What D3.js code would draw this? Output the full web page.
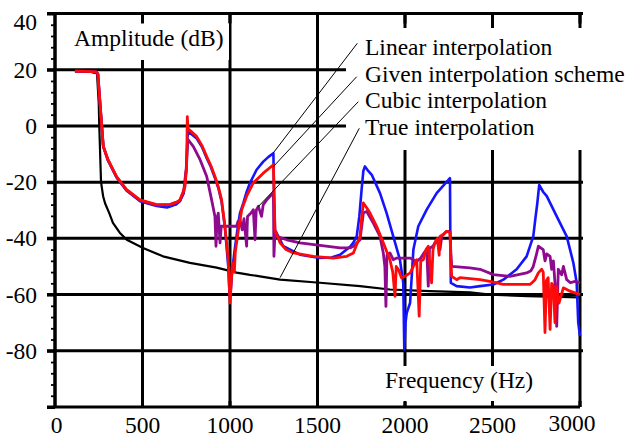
<!DOCTYPE html>
<html>
<head>
<meta charset="utf-8">
<script src="https://cdn.jsdelivr.net/npm/d3@7"></script>
<style>
  body { margin: 0; background: #fff; }
  svg text { font-family: "Liberation Serif", "Tinos", "DejaVu Serif", "Noto Serif", serif; }
</style>
</head>
<body>
<div id="grafico"></div>
<script>
// Valores: [frequência (Hz), amplitude (dB)]
const trueInterp = [
  [114, 19.5], [200, 19.3], [240, 18.7], [250, 8], [253, 0], [258, -10], [263, -20],
  [275, -25], [286, -27.5], [310, -31], [331, -34.5], [370, -38], [410, -40.5],
  [503, -43.4], [617, -46.4], [771, -48.7], [924, -50.4], [1038, -52.2], [1114, -53],
  [1171, -53.5], [1286, -54.7], [1514, -55.8], [1743, -57], [1914, -58.2], [2143, -58.8],
  [2371, -59.2], [2486, -60], [2700, -60.6], [3000, -61]
];

const linearInterp = [
  [114, 19.5], [180, 19.4], [235, 19.2], [245, 18.5], [255, 10], [267, 0], [276, -7.3],
  [303, -12.3], [352, -18.3], [410, -23], [486, -26.8], [581, -28.5], [640, -29], [690, -28],
  [714, -26.8], [735, -24], [750, -16], [757, -4], [762, -2], [768, -2.3], [810, -4.5],
  [840, -7.5], [867, -11.5], [890, -14.5], [914, -18.5], [935, -22.5], [952, -27], [971, -36],
  [990, -50], [998, -60.6], [1005, -58], [1012, -52], [1025, -45], [1040, -38], [1057, -31],
  [1076, -27.5], [1095, -23.5], [1114, -20.3], [1152, -15.6], [1190, -12.7], [1220, -11],
  [1248, -9.7], [1252, -25], [1257, -37], [1305, -42.8], [1400, -45.8], [1514, -47],
  [1580, -46.8], [1629, -45.8], [1686, -43], [1705, -41.5], [1724, -39.3], [1739, -32.2],
  [1752, -22.7], [1762, -16], [1771, -14.4], [1790, -16], [1810, -17.4], [1857, -23.9],
  [1895, -31], [1933, -39.3], [1971, -47.6], [1990, -55.8], [1996, -79.5], [2003, -70],
  [2010, -66.5], [2029, -63], [2040, -52], [2048, -44], [2076, -35.7], [2124, -29.8],
  [2181, -23.9], [2257, -18.6], [2259, -40], [2262, -55.8], [2295, -57], [2371, -57.5],
  [2429, -57], [2505, -56.4], [2562, -54.7], [2638, -51], [2695, -46.4], [2733, -39.3],
  [2745, -33], [2756, -27.5], [2767, -21], [2790, -23.5], [2810, -25], [2867, -32.2],
  [2924, -39.3], [2962, -48.7], [2981, -55.8], [2990, -70], [3000, -74.8]
];

const cubicInterp = [
  [114, 19.5], [180, 19.4], [235, 19.2], [245, 18.5], [255, 10], [267, 0], [276, -7.3],
  [303, -12.2], [352, -18.2], [410, -23], [486, -26.5], [581, -28.2], [657, -28], [700, -27],
  [714, -26.5], [735, -23.5], [750, -15], [758, -6], [762, -5], [790, -7.3], [829, -12],
  [867, -18], [895, -26.3], [914, -32.2], [920, -42.8], [926, -33], [933, -31], [943, -41.6],
  [950, -35.7], [1038, -35.7], [1045, -34], [1057, -33.4], [1070, -37], [1080, -33],
  [1095, -42.8], [1100, -32.2], [1120, -31], [1133, -29.8], [1143, -40.5], [1150, -30],
  [1162, -28.6], [1180, -32.2], [1190, -28], [1210, -26.3], [1229, -25], [1248, -23.9],
  [1251, -46.4], [1257, -38], [1267, -39.3], [1324, -40.5], [1400, -41.6], [1514, -42.5],
  [1629, -43.4], [1686, -43.4], [1705, -42.8], [1743, -40.5], [1752, -36], [1762, -31],
  [1781, -30.4], [1800, -32.5], [1819, -34.6], [1857, -39.3], [1876, -45.2], [1885, -50],
  [1891, -64.2], [1897, -46], [1914, -45.2], [1933, -47.6], [1952, -47], [2029, -47],
  [2067, -48.2], [2090, -47], [2110, -45], [2124, -44], [2133, -57], [2140, -43.5],
  [2160, -42.8], [2181, -40.5], [2200, -44], [2210, -39.3], [2238, -37.5], [2257, -37.5],
  [2262, -45], [2267, -50], [2371, -50.5], [2429, -51], [2505, -52.9], [2600, -53.5],
  [2695, -52.3], [2720, -51.5], [2733, -50], [2750, -46], [2762, -42.8], [2790, -44],
  [2800, -48], [2810, -45.5], [2829, -46.4], [2838, -51], [2848, -48], [2857, -56],
  [2867, -71.3], [2876, -51], [2895, -53], [2905, -50], [2924, -54.7], [2945, -55.8],
  [2971, -55.3], [3000, -55.8]
];

const givenInterp = [
  [114, 19.5], [180, 19.4], [235, 19.2], [245, 18.5], [255, 10], [267, 0], [276, -7.3],
  [303, -12], [352, -18], [410, -22.7], [486, -26.3], [581, -28], [657, -28], [700, -27],
  [714, -26.3], [735, -23], [743, -21.5], [752, -14.4], [754, -6], [756, 3.3], [760, -1],
  [768, -1.4], [810, -3.8], [840, -7], [867, -10.9], [890, -14], [914, -18], [935, -22],
  [952, -26.3], [971, -35.7], [990, -47.6], [1000, -63], [1008, -55], [1012, -50],
  [1019, -48.7], [1025, -52], [1030, -45], [1048, -37], [1067, -29.8], [1095, -25],
  [1133, -20.3], [1190, -16.8], [1248, -13.8], [1252, -25], [1257, -37], [1286, -41.6],
  [1320, -44], [1362, -45.2], [1476, -46.4], [1590, -47], [1667, -46.4], [1705, -45.2],
  [1728, -41.6], [1743, -39.3], [1752, -33], [1762, -27.4], [1780, -29], [1800, -31],
  [1838, -35.7], [1876, -41.6], [1914, -47.6], [1930, -52], [1943, -60.6], [1950, -50],
  [1962, -51], [1980, -54], [2000, -53.5], [2030, -52.3], [2055, -49], [2067, -47.6],
  [2081, -67.7], [2090, -48], [2105, -47.6], [2120, -44], [2133, -42.8], [2152, -55.8],
  [2160, -44], [2171, -41.6], [2185, -40], [2195, -46], [2200, -39.3], [2220, -38.5],
  [2238, -37.5], [2257, -38], [2262, -48], [2267, -53.5], [2295, -54.7], [2314, -54],
  [2429, -54.7], [2500, -55.5], [2562, -56.4], [2714, -56.4], [2730, -55.5], [2743, -54.7],
  [2762, -52.3], [2781, -51], [2790, -52], [2800, -73.5], [2808, -55], [2818, -54],
  [2829, -72.4], [2838, -56], [2848, -57], [2857, -70], [2866, -57], [2880, -63],
  [2905, -57.6], [2943, -58.8], [3000, -60]
];

// Ticks
const xTicks = [0, 500, 1000, 1500, 2000, 2500, 3000];
const yTicks = [40, 20, 0, -20, -40, -60, -80];
const yMinorTicks = d3.range(-96, 40, 4).filter((v) => v % 20 !== 0);

// Legendas e ponto onde cada linha guia toca a curva
const legendLabels = [
  "Linear interpolation",
  "Given interpolation scheme",
  "Cubic interpolation",
  "True interpolation",
];
const leaderTargets = [[1246, -9.7], [1246, -14.6], [1160, -28.8], [1286, -54]];

const series = [
  { data: trueInterp, color: "#000000", width: 2.2 },
  { data: linearInterp, color: "#1414ff", width: 2.6 },
  { data: cubicInterp, color: "#8e0a8e", width: 2.8 },
  { data: givenInterp, color: "#ff0a0a", width: 2.8 },
];

const svgWidth = 629,
  svgHeight = 438;
const serif = '"Liberation Serif", Tinos, "DejaVu Serif", "Noto Serif", serif';
const fontSize = "23.5px";

const svg = d3
  .select("#grafico")
  .append("svg")
  .attr("width", svgWidth)
  .attr("height", svgHeight);

const x = d3.scaleLinear().domain([0, 3000]).range([55, 580]);
const y = d3.scaleLinear().domain([-100, 40]).range([407, 13.5]);

// Grade
const grid = svg.append("g").attr("stroke", "#000").attr("stroke-width", 3);

grid
  .selectAll(".hgrid")
  .data(yTicks)
  .enter()
  .append("line")
  .attr("x1", x(0) - 8)
  .attr("x2", x(3000) + 3)
  .attr("y1", (d) => y(d))
  .attr("y2", (d) => y(d));

grid
  .selectAll(".vgrid")
  .data(xTicks.slice(1))
  .enter()
  .append("line")
  .attr("x1", (d) => x(d))
  .attr("x2", (d) => x(d))
  .attr("y1", y(40))
  .attr("y2", y(-100));

// Curvas
const line = d3
  .line()
  .x((d) => x(d[0]))
  .y((d) => y(d[1]));

svg
  .selectAll(".curve")
  .data(series)
  .enter()
  .append("path")
  .attr("d", (d) => line(d.data))
  .attr("fill", "none")
  .attr("stroke", (d) => d.color)
  .attr("stroke-width", (d) => d.width)
  .attr("stroke-linejoin", "round");

// Fundos brancos atras dos textos
const boxes = [
  [63, 23, 166, 37],
  [346, 28, 283, 122],
  [374, 366, 172, 36],
];
svg
  .selectAll(".box")
  .data(boxes)
  .enter()
  .append("rect")
  .attr("x", (d) => d[0])
  .attr("y", (d) => d[1])
  .attr("width", (d) => d[2])
  .attr("height", (d) => d[3])
  .attr("fill", "#fff");

// Eixos
const yAxis = d3
  .axisLeft(y)
  .tickValues(yTicks.concat([-100]))
  .tickSize(8)
  .tickFormat("");
svg
  .append("g")
  .attr("transform", `translate(${x(0)},0)`)
  .call(yAxis)
  .call((g) => g.selectAll("line").attr("stroke-width", 3))
  .call((g) => g.select(".domain").attr("stroke-width", 3.5).attr("d", `M0,${y(40)}V${y(-100)}`));

svg
  .append("g")
  .attr("transform", `translate(${x(0)},0)`)
  .call(d3.axisLeft(y).tickValues(yMinorTicks).tickSize(4).tickFormat(""))
  .call((g) => g.select(".domain").remove())
  .call((g) => g.selectAll("line").attr("stroke-width", 1.8));

// Linha inferior e marcas internas
svg
  .append("line")
  .attr("x1", x(0) - 8)
  .attr("x2", x(3000))
  .attr("y1", y(-100))
  .attr("y2", y(-100))
  .attr("stroke", "#000")
  .attr("stroke-width", 3.2);

svg
  .selectAll(".btick")
  .data(xTicks.slice(1))
  .enter()
  .append("line")
  .attr("x1", (d) => x(d))
  .attr("x2", (d) => x(d))
  .attr("y1", y(-100) - 6)
  .attr("y2", y(-100))
  .attr("stroke", "#000")
  .attr("stroke-width", 3);

svg
  .selectAll(".ttick")
  .data(xTicks.slice(1))
  .enter()
  .append("line")
  .attr("x1", (d) => x(d))
  .attr("x2", (d) => x(d))
  .attr("y1", y(40))
  .attr("y2", y(40) + 10)
  .attr("stroke", "#000")
  .attr("stroke-width", 3);

// Rotulos dos eixos
svg
  .selectAll(".ylabel")
  .data(yTicks)
  .enter()
  .append("text")
  .attr("x", 37)
  .attr("y", (d) => (d === 40 ? 30 : y(d) + 8))
  .attr("text-anchor", "end")
  .attr("font-family", serif)
  .style("font-size", fontSize)
  .text((d) => String(d));

svg
  .selectAll(".xlabel")
  .data(xTicks)
  .enter()
  .append("text")
  .attr("x", (d) => (d === 3000 ? x(d) - 8 : d === 0 ? x(d) + 1.5 : x(d)))
  .attr("y", (d) => (d === 3000 ? 431 : 432.5))
  .attr("text-anchor", "middle")
  .attr("font-family", serif)
  .style("font-size", fontSize)
  .text((d) => String(d));

svg
  .append("text")
  .attr("x", 74)
  .attr("y", 46)
  .attr("font-family", serif)
  .style("font-size", fontSize)
  .text("Amplitude (dB)");

svg
  .append("text")
  .attr("x", 385)
  .attr("y", 388)
  .attr("font-family", serif)
  .style("font-size", fontSize)
  .text("Frequency (Hz)");

// Legenda com linhas guia
const legendY = [55, 81.7, 108, 135];
const leaderStart = [[357.3, 43.3], [356.7, 76.7], [358.3, 101.7], [359.3, 128.3]];

svg
  .selectAll(".leader")
  .data(leaderTargets)
  .enter()
  .append("line")
  .attr("x1", (d, i) => leaderStart[i][0])
  .attr("y1", (d, i) => leaderStart[i][1])
  .attr("x2", (d) => x(d[0]))
  .attr("y2", (d) => y(d[1]))
  .attr("stroke", "#000")
  .attr("stroke-width", 1);

svg
  .selectAll(".legend")
  .data(legendLabels)
  .enter()
  .append("text")
  .attr("x", 365)
  .attr("y", (d, i) => legendY[i])
  .attr("font-family", serif)
  .style("font-size", fontSize)
  .text((d) => d);
</script>
</body>
</html>
